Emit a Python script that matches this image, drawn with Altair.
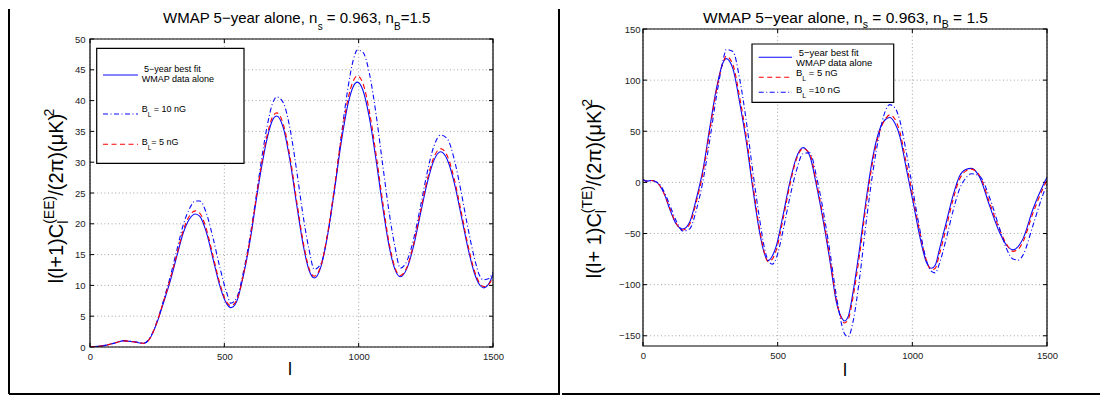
import altair as alt
import pandas as pd

# ---------------- data ----------------
ee_l = [0, 30, 62, 95, 125, 160, 200, 223, 248, 273,
        298, 323, 347, 372, 392, 409, 434, 459, 484, 509,
        524, 546, 571, 596, 620, 639, 660, 680, 695, 720,
        745, 770, 795, 815, 835, 860, 885, 910, 935, 960,
        980, 995, 1015, 1040, 1065, 1090, 1115, 1135, 1155, 1180,
        1205, 1230, 1255, 1280, 1305, 1330, 1355, 1380, 1405, 1430,
        1450, 1465, 1485, 1500]
ee_fit = [0, 0.1, 0.3, 0.7, 1.0, 0.85, 0.6, 1.4, 3.8, 7.1,
          10.6, 14.7, 18.5, 20.9, 21.6, 21.2, 18.5, 14.1, 9.8, 7.0,
          6.4, 7.4, 11.6, 17.3, 24.2, 29.3, 34.0, 36.9, 37.5, 35.5,
          30.1, 22.9, 16.2, 12.5, 11.2, 13.1, 18.3, 25.5, 33.2, 39.4,
          42.3, 43.0, 41.8, 37.2, 30.3, 22.6, 16.0, 12.6, 11.4, 12.8,
          16.5, 21.6, 26.6, 30.3, 31.7, 30.4, 26.8, 21.7, 16.4, 12.1,
          10.1, 9.6, 10.3, 11.8]
ee_5ng = [0, 0.1, 0.3, 0.7, 1.0, 0.85, 0.6, 1.4, 3.9, 7.3,
          10.9, 15.0, 18.9, 21.4, 22.1, 21.7, 19.0, 14.6, 10.2, 7.3,
          6.7, 7.6, 11.8, 17.6, 24.6, 29.8, 34.5, 37.4, 38.0, 36.1,
          30.7, 23.5, 16.7, 12.8, 11.5, 13.3, 18.6, 26.0, 33.9, 40.2,
          43.2, 44.0, 42.9, 38.2, 31.2, 23.4, 16.5, 12.9, 11.6, 13.0,
          16.8, 22.0, 27.1, 30.8, 32.2, 31.0, 27.4, 22.3, 16.9, 12.5,
          10.4, 9.8, 10.2, 11.3]
ee_10ng = [0, 0.1, 0.3, 0.7, 1.05, 0.9, 0.65, 1.5, 4.0, 7.5,
           11.3, 15.7, 19.8, 22.6, 23.7, 23.7, 21.6, 17.5, 12.8, 8.8,
           7.1, 8.0, 12.2, 18.0, 24.9, 30.6, 36.0, 39.6, 40.6, 39.6,
           35.3, 28.4, 20.8, 15.9, 12.6, 13.6, 18.4, 25.6, 34.2, 42.0,
           46.6, 48.2, 47.9, 44.4, 37.7, 29.4, 21.4, 16.3, 12.8, 14.0,
           17.6, 22.8, 28.3, 32.6, 34.4, 33.8, 30.6, 25.5, 19.7, 14.6,
           11.6, 10.9, 11.1, 12.2]

te_l = [0, 12, 30, 48, 62, 80, 99, 124, 148, 173,
        198, 223, 247, 272, 297, 309, 334, 359, 384, 408,
        433, 450, 464, 480, 495, 520, 545, 569, 594, 619,
        644, 668, 693, 718, 735, 748, 762, 780, 804, 829,
        854, 879, 900, 916, 935, 953, 978, 1003, 1027, 1052,
        1071, 1085, 1101, 1126, 1151, 1176, 1198, 1219, 1250, 1287,
        1324, 1350, 1374, 1395, 1411, 1448, 1485, 1500]
te_fit = [3, 1.2, 1.8, 0.5, -3, -12, -26, -41, -45.6, -39,
          -16, 13, 52, 91, 117, 121, 111, 78, 39, -6.5,
          -49, -69, -76.5, -72, -62, -32, 0, 24, 34, 26,
          -3, -36, -75, -117, -131, -135.5, -131, -107, -65, -16,
          26, 52, 61.5, 63.5, 58, 45.6, 13, -19.5, -52, -78,
          -84, -81, -65, -39, -13, 6.5, 12.5, 13.7, 5, -23,
          -49, -61.5, -66, -62, -55, -26, -3, 5]
te_5ng = [3, 1.2, 1.8, 0.5, -3, -12, -25, -40.5, -46.5, -41,
          -19, 10, 49, 89, 117, 123.5, 115, 83, 44, -2,
          -46, -68, -77.5, -75, -66, -36, -3, 22, 33, 28,
          0, -33, -72, -115, -132, -137.5, -134, -112, -71, -21,
          22, 50, 62, 66, 62, 50, 18, -15, -48, -76,
          -85.5, -84, -70, -44, -17, 3.5, 11, 13, 6.5, -20,
          -46, -60.5, -67.5, -65, -58, -30, -6, 2]
te_10ng = [3, 1.2, 1.8, 0.7, -2, -10, -22, -38, -47.5, -45.5,
           -27, 2, 40, 83, 119, 130, 128, 101, 59, 10,
           -36, -63, -76, -80, -74, -47, -15, 11, 28, 29,
           6, -26, -66, -111, -136, -148, -151, -136, -94, -38,
           11, 49, 70, 76, 73, 61, 29, -9, -45, -76,
           -87, -88.5, -79, -55, -28, -6, 4, 8.5, 6, -15,
           -45, -65, -75, -76, -71, -42, -12, -2]

x_ticks = [0, 500, 1000, 1500]
ee_y_ticks = [0, 5, 10, 15, 20, 25, 30, 35, 40, 45, 50]
te_y_ticks = [-150, -100, -50, 0, 50, 100, 150]

for a, b in [(ee_l, ee_fit), (ee_l, ee_5ng), (ee_l, ee_10ng),
             (te_l, te_fit), (te_l, te_5ng), (te_l, te_10ng)]:
    assert len(a) == len(b)

# ---------------- styling ----------------
FONT = "Liberation Sans"
BLUE = "#0a0aff"
RED = "#ff0000"
DASH = [5, 3.5]
DASHDOT = [5, 2.5, 1, 2.5]

ADV = {" ": 278, "(": 333, ")": 333, "+": 584, "=": 584, "−": 584, "/": 278,
       ",": 278, ".": 278, "A": 667, "B": 667, "C": 722, "E": 667, "G": 778,
       "K": 667, "L": 556, "M": 833, "P": 667, "T": 611, "W": 944,
       "a": 556, "b": 556, "d": 556, "e": 556, "f": 278, "i": 222, "l": 222,
       "n": 556, "o": 556, "r": 333, "s": 500, "t": 278, "y": 500,
       "π": 556, "μ": 576}


def text_w(s, size):
    return sum(ADV.get(ch, 556) for ch in s) * size / 1000.0


ONE = pd.DataFrame({"k": [0]})


def txt(s, x, y, size, angle=0, align="left"):
    kw = dict(text=s, font=FONT, fontSize=size, align=align,
              baseline="alphabetic", color="black")
    if angle:
        kw["angle"] = angle
    return alt.Chart(ONE).mark_text(**kw).encode(x=alt.value(x), y=alt.value(y))


def rich_h(pieces, x0, y0):
    # leading spaces are collapsed by SVG, so they are turned into an x advance
    out, x = [], x0
    for s, size, shift, adv in pieces:
        core = s.lstrip(" ")
        lead = text_w(s[:len(s) - len(core)], size)
        out.append(txt(core, x + lead, y0 + shift, size))
        if adv:
            x += text_w(s, size)
    return out


def rich_v(pieces, xb, yc):
    total = sum(text_w(s, z) for s, z, sh, adv in pieces if adv)
    out, off = [], 0.0
    for s, size, shift, adv in pieces:
        out.append(txt(s, xb + shift, yc + total / 2 - off, size, angle=270))
        if adv:
            off += text_w(s, size)
    return out


def rule(x, x2, y, y2, color="black", width=1.0, dash=None, opacity=1.0):
    kw = dict(color=color, strokeWidth=width)
    if dash:
        kw["strokeDash"] = dash
    if opacity < 1:
        kw["strokeOpacity"] = opacity
    return alt.Chart(ONE).mark_rule(**kw).encode(
        x=alt.value(x), x2=alt.value(x2), y=alt.value(y), y2=alt.value(y2))


def rect(x, x2, y, y2, fill=None):
    kw = dict(stroke="black", strokeWidth=1.2)
    if fill:
        kw["fill"] = fill
    else:
        kw["fillOpacity"] = 0
    return alt.Chart(ONE).mark_rect(**kw).encode(
        x=alt.value(x), x2=alt.value(x2), y=alt.value(y), y2=alt.value(y2))


def panel(l, series, yticks, ydom, W, top, bot, ypad):
    xs = alt.Scale(domain=[0, 1500], nice=False, zero=False)
    ys = alt.Scale(domain=ydom, nice=False, zero=False, range=[bot, top])
    ax_x = alt.Axis(values=x_ticks, format="d", ticks=False, tickSize=0, domain=False,
                    grid=False, labelFont=FONT, labelFontSize=9.5, labelColor="#222",
                    labelPadding=4, labelFlush=False, labelOverlap=False, title=None)
    ax_y = alt.Axis(values=yticks, format="d", ticks=False, tickSize=0, domain=False,
                    grid=False, labelFont=FONT, labelFontSize=9.5, labelColor="#222",
                    labelPadding=ypad, labelOverlap=False, title=None)
    xt = pd.DataFrame({"t": x_ticks})
    yt = pd.DataFrame({"t": yticks})
    X = alt.X("t:Q", scale=xs, axis=ax_x)
    Y = alt.Y("t:Q", scale=ys, axis=ax_y)
    gcol, gdash = "#8c8c8c", [1, 2.6]
    layers = [
        alt.Chart(xt).mark_rule(color=gcol, strokeWidth=0.8, strokeDash=gdash).encode(
            x=X, y=alt.value(top), y2=alt.value(bot)),
        alt.Chart(yt).mark_rule(color=gcol, strokeWidth=0.8, strokeDash=gdash).encode(
            y=Y, x=alt.value(0), x2=alt.value(W)),
        alt.Chart(xt).mark_rule(color="black", strokeWidth=1).encode(
            x=X, y=alt.value(bot), y2=alt.value(bot - 4)),
        alt.Chart(xt).mark_rule(color="black", strokeWidth=1).encode(
            x=X, y=alt.value(top), y2=alt.value(top + 4)),
        alt.Chart(yt).mark_rule(color="black", strokeWidth=1).encode(
            y=Y, x=alt.value(0), x2=alt.value(4)),
        alt.Chart(yt).mark_rule(color="black", strokeWidth=1).encode(
            y=Y, x=alt.value(W), x2=alt.value(W - 4)),
    ]
    for vals, color, dash in series:
        df = pd.DataFrame({"l": l, "v": vals})
        kw = dict(color=color, strokeWidth=1.1, interpolate="monotone", clip=True)
        if dash:
            kw["strokeDash"] = dash
        layers.append(alt.Chart(df).mark_line(**kw).encode(
            x=alt.X("l:Q", scale=xs, axis=ax_x), y=alt.Y("v:Q", scale=ys, axis=ax_y)))
    layers.append(rect(0, W, top, bot))
    return layers


# ---------------- left panel (EE) ----------------
WL, TL, BL = 403, 10, 318
left_layers = panel(ee_l, [(ee_fit, BLUE, None), (ee_10ng, BLUE, DASHDOT), (ee_5ng, RED, DASH)],
                    ee_y_ticks, [0, 50], WL, TL, BL, 5)
left_layers += [
    rect(6.7, 154, 19.3, 134.3, fill="white"),
    rule(13, 48, 46, 46, BLUE, 1.1),
    rule(13, 48, 85, 85, BLUE, 1.1, DASHDOT),
    rule(13, 48, 115.3, 115.3, RED, 1.1, DASH),
    txt("5−year best fit", 54, 43.3, 9),
    txt("WMAP data alone", 51.7, 53.3, 9),
]
left_layers += rich_h([("B", 9, 0, True), ("L", 6.5, 5, True), (" = 10 nG", 9, 0, True)], 51.7, 82.7)
left_layers += rich_h([("B", 9, 0, True), ("L", 6.5, 5, True), ("= 5 nG", 9, 0, True)], 51.7, 116)
left_layers += rich_h([("WMAP 5−year alone, n", 15, 0, True), ("s", 10, 6.5, True),
                       (" = 0.963, n", 15, 0, True), ("B", 10, 6.5, True),
                       ("=1.5", 15, 0, True)], 73, -6)
left_layers += rich_v([("l(l+1)C", 20, 0, True), ("l", 14, 5, False), ("(EE)", 14, -9, True),
                       ("/(2π)(μK)", 20, 0, True), ("2", 14, -9, True)], -27, 167)
left_layers += [
    txt("l", 200, 346, 18, align="center"),
    rule(-81, -81, -20, 365, width=2),
    rule(469, 469, -20, 365, width=2),
    rule(-81, 470, 365, 365, width=2),
]
left = alt.layer(*left_layers).properties(width=WL, height=BL)

# ---------------- right panel (TE) ----------------
WR, TR, BR = 404, 0, 317
right_layers = panel(te_l, [(te_fit, BLUE, None), (te_5ng, RED, DASH), (te_10ng, BLUE, DASHDOT)],
                     te_y_ticks, [-160, 150], WR, TR, BR, 3)
right_layers += [
    rect(109, 250.7, 15, 73.3, fill="white"),
    rule(115.7, 149, 28.3, 28.3, BLUE, 1.1),
    rule(115.7, 149, 48.3, 48.3, RED, 1.1, DASH),
    rule(115.7, 149, 63.3, 63.3, BLUE, 1.1, DASHDOT),
    txt("5−year best fit", 155.7, 26.7, 9.5),
    txt("WMAP data alone", 153, 37.3, 9.5),
]
right_layers += rich_h([("B", 9.5, 0, True), ("L", 7, 5, True), (" = 5 nG", 9.5, 0, True)], 153, 46.7)
right_layers += rich_h([("B", 9.5, 0, True), ("L", 7, 5, True), (" =10 nG", 9.5, 0, True)], 153, 64)
right_layers += rich_h([("WMAP 5−year alone, n", 15.5, 0, True), ("s", 10.5, 5, True),
                        (" = 0.963, n", 15.5, 0, True), ("B", 10.5, 5, True),
                        (" = 1.5", 15.5, 0, True)], 60, -6.5)
right_layers += rich_v([("l(l+ 1)C", 20, 0, True), ("l", 14, 5, False), ("(TE)", 14, -9, True),
                        ("/(2π)(μK)", 20, 0, True), ("2", 14, -9, True)], -42, 159.5)
right_layers += [
    txt("l", 202, 347, 18, align="center"),
    rule(-82, -82, -21, -20, color="white", width=0.01, opacity=0.0),
    rule(-81, 457, 365, 365, width=2),
]
right = alt.layer(*right_layers).properties(width=WR, height=BR)

chart = alt.hconcat(left, right, spacing=0).properties(
    padding=0, background="white"
).configure_view(strokeWidth=0)

chart.save("out.html", embed_options={"renderer": "svg", "actions": False})
